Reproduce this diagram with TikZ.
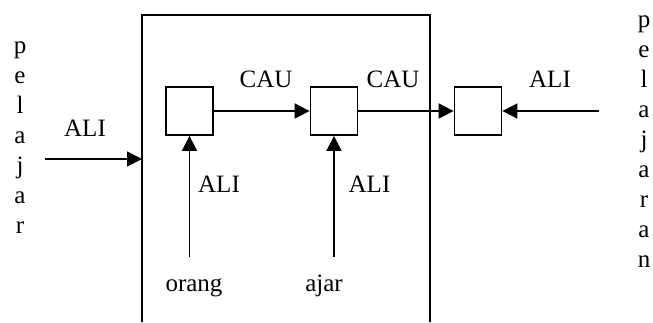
\documentclass[tikz,border=0pt]{standalone}
\usepackage{fontspec}
\setmainfont{Liberation Serif}
\usetikzlibrary{arrows.meta}
\tikzset{
  lbl/.style={anchor=base, inner sep=0pt, font=\fontsize{25}{30}\selectfont},
  cell/.style={draw, line width=1.8pt, minimum width=47pt, minimum height=48pt, inner sep=0pt},
  conn/.style={line width=1.8pt, -{Triangle[length=15pt,width=15pt]}},
  frame/.style={line width=1.8pt}
}
\begin{document}
\begin{tikzpicture}[x=1pt,y=-1pt]
\useasboundingbox (0,0) rectangle (653,322);
% open frame
\draw[frame] (142,322) -- (142,15) -- (430,15) -- (430,322);
\coordinate (fl) at (142,159);
% boxes
\node[cell] (b1) at (189.5,111) {};
\node[cell] (b2) at (334,111) {};
\node[cell] (b3) at (478,111) {};
% free ends
\coordinate (lin) at (45,159);
\coordinate (rin) at (599,111);
\coordinate (o1) at (189.5,257);
\coordinate (o2) at (334,257);
% connectors
\draw[conn] (lin) -- (fl);
\draw[conn] (b1.east) -- (b2.west);
\draw[conn] (b2.east) -- (b3.west);
\draw[conn] (rin) -- (b3.east);
\draw[conn] (o1) -- (b1.south);
\draw[conn] (o2) -- (b2.south);
% labels
\node[lbl] (alil) at (85,136) {ALI};
\node[lbl] (cau1) at (266,87) {CAU};
\node[lbl] (cau2) at (393,87) {CAU};
\node[lbl] (alir) at (550,87) {ALI};
\node[lbl] (ali1) at (219,192) {ALI};
\node[lbl] (ali2) at (369.5,192) {ALI};
\node[lbl] (orang) at (194,291) {orang};
\node[lbl] (ajar) at (324,291) {ajar};
% vertical words
\foreach \c [count=\i from 0] in {p,e,l,a,j,a,r}
  \node[lbl] (pl\i) at (20,53+30*\i) {\c};
\foreach \c [count=\i from 0] in {p,e,l,a,j,a,r,a,n}
  \node[lbl] (pr\i) at (644,27+30.1*\i) {\c};
\end{tikzpicture}
\end{document}
